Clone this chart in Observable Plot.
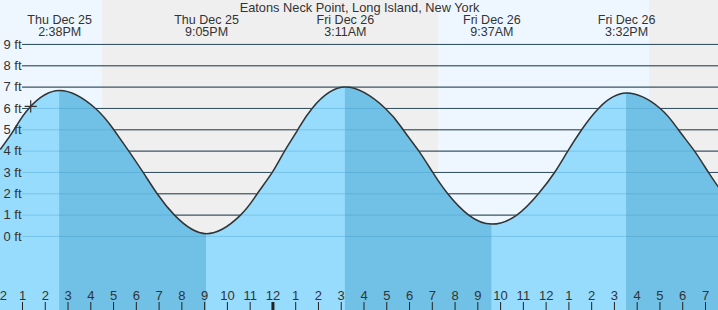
<!DOCTYPE html>
<html>
<head>
<meta charset="utf-8">
<script src="https://cdn.jsdelivr.net/npm/d3@7"></script>
<script src="https://cdn.jsdelivr.net/npm/@observablehq/plot@0.6"></script>
<style>
  html, body { margin: 0; padding: 0; background: #fff; }
  svg { display: block; }
</style>
</head>
<body>
<script>
// Hours counted from Thu Dec 25, 12:00 PM
const chartTitle = "Eatons Neck Point, Long Island, New York";
const tideHours = [0.034, 0.627, 1.277, 2.633, 4.207, 5.011, 5.67, 6.30, 6.917, 7.677, 9.083, 10.575, 11.31, 11.97, 12.51, 13.09, 13.72, 15.183, 16.94, 17.72, 18.41, 19.02, 19.68, 20.60, 21.617, 22.71, 23.66, 24.37, 24.95, 25.56, 26.30, 27.533, 29.01, 29.81, 30.52, 31.13, 31.571];
const tideFeet  = [4.1, 5, 6, 6.84, 6, 5, 4, 3, 2, 1, 0.13, 1, 2, 3, 4, 5, 6, 7.0, 6, 5, 4, 3, 2, 1, 0.58, 1, 2, 3, 4, 5, 6, 6.72, 6, 5, 4, 3, 2.31];

const extremeHours = [2.633, 9.083, 15.183, 21.617, 27.533];
const extremeDays  = ["Thu Dec 25", "Thu Dec 25", "Fri Dec 26", "Fri Dec 26", "Fri Dec 26"];
const extremeTimes = ["2:38PM", "9:05PM", "3:11AM", "9:37AM", "3:32PM"];
const extremeKinds = ["high", "low", "high", "low", "high"];

const sunBoundaries = [4.49, 19.29, 28.54]; // sunset, sunrise, sunset
const levels = [0, 1, 2, 3, 4, 5, 6, 7, 8, 9];
const hourLabelHours = [0,1,2,3,4,5,6,7,8,9,10,11,12,13,14,15,16,17,18,19,20,21,22,23,24,25,26,27,28,29,30,31];
const hourLabels = ["12","1","2","3","4","5","6","7","8","9","10","11","12","1","2","3","4","5","6","7","8","9","10","11","12","1","2","3","4","5","6","7"];
const hourTickHours = [1,2,3,4,5,6,7,8,9,10,11,13,14,15,16,17,18,19,20,21,22,23,24,25,26,27,28,29,30,31];
const midnightHours = [12];
const nowHour = 1.36, nowFeet = 6.1;

const xDomain = [0.0337, 31.571];
const yDomain = [-3.47, 11.06];

const tide = tideHours.map((h, i) => ({h, v: tideFeet[i]}));
const events = extremeHours.map((h, i) => ({h, day: extremeDays[i], time: extremeTimes[i], kind: extremeKinds[i]}));
const bandEdges = [xDomain[0], ...sunBoundaries, xDomain[1]];
const bands = bandEdges.slice(0, -1).map((s, i) => ({x1: s, x2: bandEdges[i + 1], day: i % 2 === 0}));
const ebbs = [];
events.forEach((e, i) => { if (e.kind === "high") ebbs.push([e.h, i + 1 < events.length ? events[i + 1].h : xDomain[1]]); });
const tickLabels = hourLabelHours.map((h, i) => ({h, label: hourLabels[i]}));

const font = "'Liberation Sans', Arial, sans-serif";
const textColor = "#333";
const ebbColor = "#71c0e5";
const curve = "natural";

const plot = Plot.plot({
  width: 718,
  height: 310,
  margin: 0,
  style: {fontFamily: font, fontSize: "13px", color: textColor, background: "transparent"},
  x: {domain: xDomain, axis: null},
  y: {domain: yDomain, axis: null},
  marks: [
    Plot.rect(bands, {x1: "x1", x2: "x2", fill: d => d.day ? "#eef7ff" : "#efefef"}),
    Plot.ruleY(levels, {y: d => d, stroke: "#2a2a2a", strokeWidth: 1, insetLeft: 22}),
    Plot.areaY(tide, {x: "h", y1: yDomain[0], y2: "v", curve, fill: "#97dbfd"}),
    Plot.areaY(tide, {x: "h", y1: yDomain[0], y2: "v", curve, fill: ebbColor}),
    Plot.ruleY(levels, {y: d => d, stroke: "#3d97c8", strokeOpacity: 0.35, strokeWidth: 1, insetLeft: 22}),
    Plot.line(tide, {x: "h", y: "v", curve, stroke: "#333", strokeWidth: 1.5}),
    Plot.dot([{h: nowHour, v: nowFeet}], {x: "h", y: "v", symbol: "plus", r: 4, stroke: "#333", strokeWidth: 1.2}),
    Plot.text(levels, {y: d => d, text: d => `${d} ft`, frameAnchor: "left", textAnchor: "start", dx: 3, fill: textColor}),
    Plot.text([chartTitle], {frameAnchor: "top", lineAnchor: "middle", dy: 7.5, fontSize: 12.8, fill: textColor}),
    Plot.text(events, {x: "h", text: d => `${d.day}\n${d.time}`, frameAnchor: "top", lineAnchor: "middle", fontSize: 12.5, lineHeight: 1, dy: 25.6, fill: textColor}),
    Plot.text(tickLabels, {x: "h", text: "label", frameAnchor: "bottom", lineAnchor: "middle", dy: -15, fill: textColor}),
    Plot.ruleX(hourTickHours, {x: d => d, insetTop: 302, stroke: "#222", strokeWidth: 1}),
    Plot.ruleX(midnightHours, {x: d => d, insetTop: 302, stroke: "#222", strokeWidth: 3})
  ]
});

// clip the ebb (falling tide) fill to the falling periods, positioned through the x scale
const xs = plot.scale("x");
const svg = d3.select(plot);
const defs = svg.insert("defs", ":first-child");
const cp = defs.append("clipPath").attr("id", "ebb-clip");
ebbs.forEach(([a, b]) => {
  const x1 = xs.apply(a), x2 = xs.apply(b);
  cp.append("rect").attr("x", x1).attr("y", 0).attr("width", x2 - x1).attr("height", 310);
});
svg.selectAll("g, path").filter(function () { return this.getAttribute("fill") === ebbColor; })
  .attr("clip-path", "url(#ebb-clip)");

document.body.appendChild(plot);
</script>
</body>
</html>
